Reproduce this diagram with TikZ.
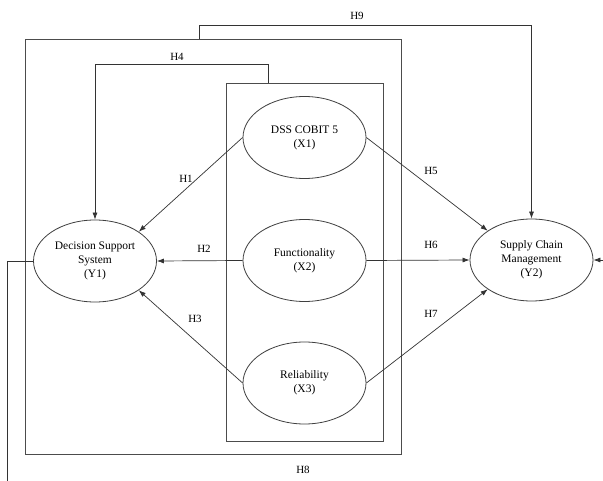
\documentclass[tikz,border=0pt]{standalone}
\usepackage{fontspec}
\setmainfont{Liberation Serif}
\usepackage{tikz}
\usetikzlibrary{positioning,arrows.meta,calc,shapes.geometric}
\tikzset{
  semvar/.style={ellipse, draw=black!75, line width=0.8pt, minimum width=123pt,
                 minimum height=82pt, inner sep=0pt, align=center,
                 font=\fontsize{11.5}{14}\selectfont},
  semgrp/.style={rectangle, draw=black!70, line width=0.9pt, inner sep=0pt},
  semhyp/.style={draw=black!80, line width=0.7pt, -{Latex[length=7pt,width=5pt]}},
  semlab/.style={font=\fontsize{11}{13}\selectfont, inner sep=1pt},
}
\newcommand{\semBack}{white}

\begin{document}
\begin{tikzpicture}[x=1pt,y=-1pt]
  \fill[\semBack] (0,0) rectangle (603,481);
  \clip (0,0) rectangle (603,481);
  % groups of constructs
  \node[semgrp, minimum width=376pt, minimum height=415pt] (boxA) at (213,246.5) {};
  \node[semgrp, minimum width=157pt, minimum height=358pt] (boxB) at (304.5,262) {};
  % constructs
  \node[semvar] (X1) at (304.5,137.5) {DSS COBIT 5\\(X1)};
  \node[semvar] (X2) at (304.5,260.5) {Functionality\\(X2)};
  \node[semvar] (X3) at (304.5,383) {Reliability\\(X3)};
  \node[semvar] (Y1) at (95,261) {Decision Support\\System\\(Y1)};
  \node[semvar] (Y2) at (531.5,260) {Supply Chain\\Management\\(Y2)};
  % hypotheses
  \draw[semhyp] (X1.west) -- (Y1.north east);
  \draw[semhyp] (X2.west) -- (Y1.east);
  \draw[semhyp] (X3.west) -- (Y1.south east);
  \draw[semhyp] (X1.east) -- (Y2.north west);
  \draw[semhyp] (X2.east) -- (Y2.west);
  \draw[semhyp] (X3.east) -- (Y2.south west);
  \draw[semhyp] (boxB.north west) ++(43,0) -- ++(0,-18) -| (Y1.north);
  \draw[semhyp] (boxA.north west) ++(175,0) -- ++(0,-13) -| (Y2.north);
  \draw[semhyp] (Y1.west) -- ++(-26,0) |- (620,500) |- (Y2.east);
  \node[semlab] (h1) at (186,179) {H1};
  \node[semlab] (h2) at (204,249) {H2};
  \node[semlab] (h3) at (195,319) {H3};
  \node[semlab] (h4) at (177,57) {H4};
  \node[semlab] (h5) at (431,171) {H5};
  \node[semlab] (h6) at (431,245) {H6};
  \node[semlab] (h7) at (431,314) {H7};
  \node[semlab] (h8) at (303,470) {H8};
  \node[semlab] (h9) at (357,16) {H9};
\end{tikzpicture}
\end{document}
